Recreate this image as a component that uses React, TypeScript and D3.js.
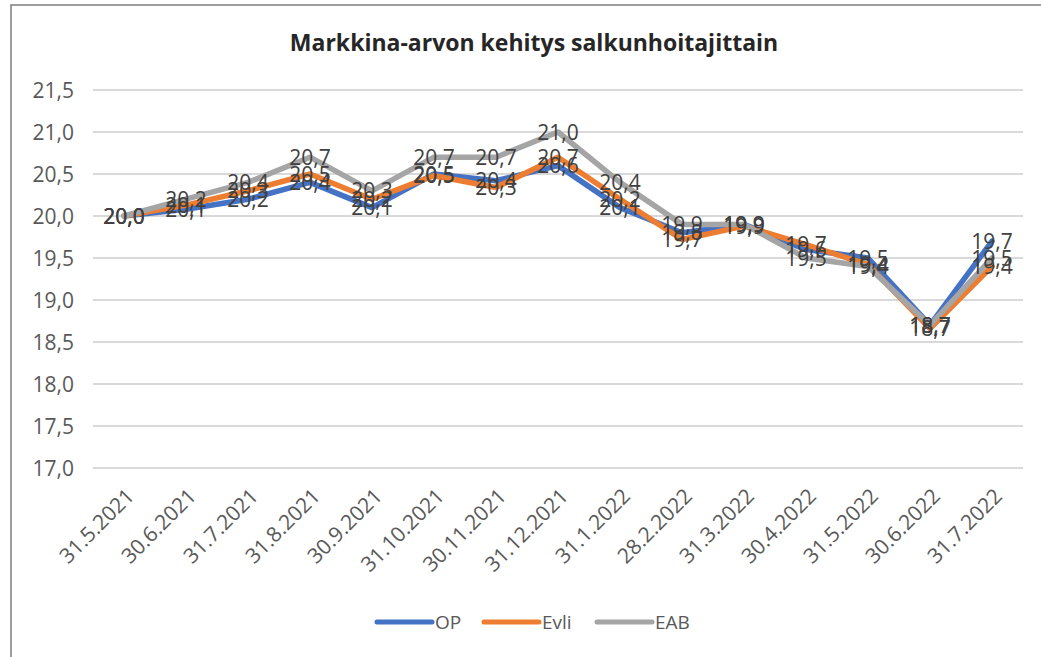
import React from "react";
import { scaleLinear, scalePoint, line, format } from "d3";

const width = 1041;
const height = 657;

const margin = { top: 90, right: 18, bottom: 189, left: 93 };
const innerWidth = width - margin.left - margin.right;
const innerHeight = height - margin.top - margin.bottom;

const title = "Markkina-arvon kehitys salkunhoitajittain";

const dates = [
  "31.5.2021", "30.6.2021", "31.7.2021", "31.8.2021", "30.9.2021",
  "31.10.2021", "30.11.2021", "31.12.2021", "31.1.2022", "28.2.2022",
  "31.3.2022", "30.4.2022", "31.5.2022", "30.6.2022", "31.7.2022",
];

const opValues = [20.0, 20.08, 20.2, 20.4, 20.1, 20.5, 20.42, 20.6, 20.1, 19.8, 19.9, 19.6, 19.5, 18.7, 19.7];
const evliValues = [20.0, 20.13, 20.3, 20.5, 20.2, 20.48, 20.34, 20.7, 20.2, 19.72, 19.88, 19.66, 19.42, 18.66, 19.4];
const eabValues = [20.0, 20.2, 20.4, 20.7, 20.3, 20.7, 20.7, 21.0, 20.4, 19.9, 19.9, 19.5, 19.4, 18.7, 19.5];

const yTicks = [17.0, 17.5, 18.0, 18.5, 19.0, 19.5, 20.0, 20.5, 21.0, 21.5];

const series = [
  { name: "OP", values: opValues, color: "#4472C4" },
  { name: "Evli", values: evliValues, color: "#ED7D31" },
  { name: "EAB", values: eabValues, color: "#A5A5A5" },
];

const fmt1 = format(".1f");
const comma = (v: number) => fmt1(v).replace(".", ",");

const font = "'Open Sans', Lato, 'DejaVu Sans', sans-serif";

export default function App() {
  const xScale = scalePoint<string>()
    .domain(dates)
    .range([0, innerWidth])
    .padding(0.5);

  const yScale = scaleLinear().domain([17, 21.5]).range([innerHeight, 0]);

  const pathFor = (values: number[]) =>
    line<number>()
      .x((d, i) => xScale(dates[i]) as number)
      .y((d) => yScale(d))(values) as string;

  // legend layout
  const legendY = 622;
  const legendX = [377, 484, 597];

  return (
    <svg
      width={width}
      height={height}
      style={{ position: "absolute", left: 0, top: 0, background: "#fff" }}
    >
      {/* chart frame */}
      <rect x={11} y={5} width={1100} height={800} fill="#fff" stroke="#7f7f7f" strokeWidth={1.5} />

      <text
        x={534}
        y={51}
        textAnchor="middle"
        fontFamily={font}
        fontWeight="bold"
        fontSize={23}
        fill="#262626"
      >
        {title}
      </text>

      <g transform={`translate(${margin.left}, ${margin.top})`}>
        {/* y grid + labels */}
        {yTicks.map((t) => (
          <g key={t} transform={`translate(0, ${yScale(t)})`}>
            <line x2={innerWidth} stroke="#D9D9D9" strokeWidth={2} />
            <text
              x={-19}
              dy="0.36em"
              textAnchor="end"
              fontFamily={font}
              fontSize={21}
              fill="#595959"
            >
              {comma(t)}
            </text>
          </g>
        ))}

        {/* x labels */}
        {dates.map((d) => (
          <text
            key={d}
            transform={`translate(${(xScale(d) as number) + 1}, ${innerHeight + 19}) rotate(-45)`}
            textAnchor="end"
            dy="0.7em"
            fontFamily={font}
            fontSize={21}
            fill="#595959"
          >
            {d}
          </text>
        ))}

        {/* lines */}
        {series.map((s) => (
          <path
            key={s.name}
            d={pathFor(s.values)}
            fill="none"
            stroke={s.color}
            strokeWidth={5.5}
            strokeLinejoin="round"
            strokeLinecap="round"
          />
        ))}

        {/* data labels */}
        {series.map((s) =>
          s.values.map((v, i) => (
            <text
              key={s.name + i}
              x={xScale(dates[i]) as number}
              y={yScale(v)}
              dy="0.36em"
              textAnchor="middle"
              fontFamily={font}
              fontSize={21}
              fill="#404040"
            >
              {comma(v)}
            </text>
          ))
        )}
      </g>

      {/* legend */}
      {series.map((s, i) => (
        <g key={s.name} transform={`translate(${legendX[i]}, ${legendY})`}>
          <line x1={0} x2={55} stroke={s.color} strokeWidth={5} strokeLinecap="round" />
          <text x={58} dy="0.36em" fontFamily={font} fontSize={19} fill="#595959">
            {s.name}
          </text>
        </g>
      ))}
    </svg>
  );
}
